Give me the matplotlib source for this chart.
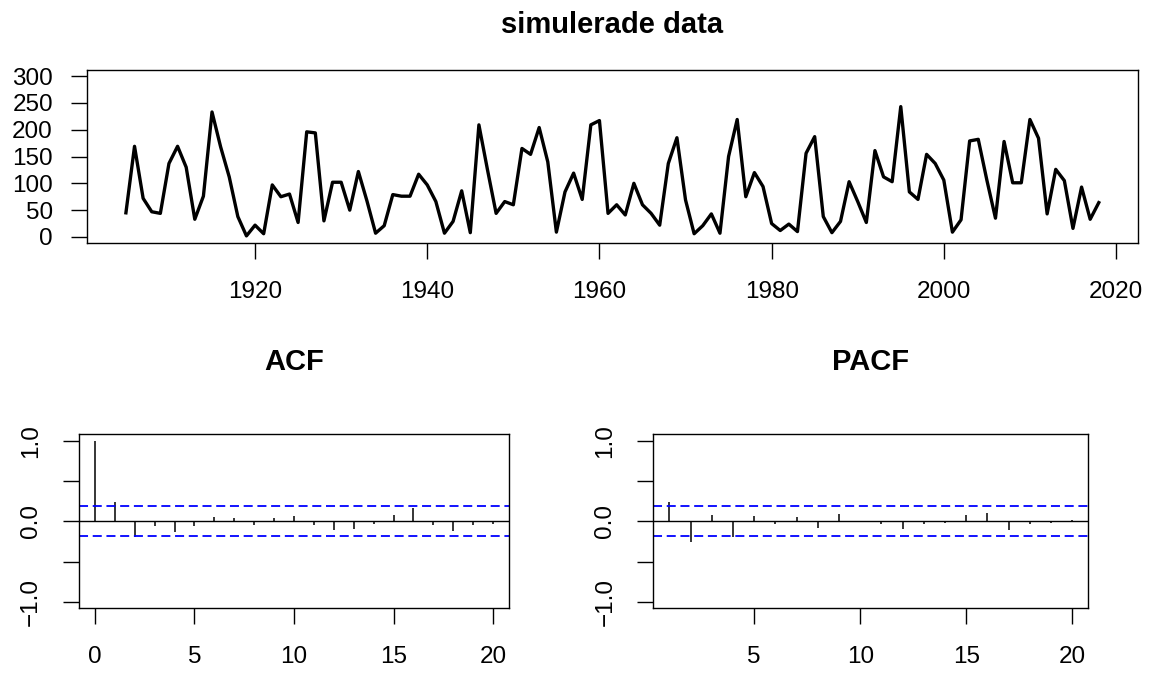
import matplotlib
matplotlib.use("Agg")
import matplotlib.pyplot as plt
import numpy as np

plt.rcParams['font.family'] = ['Liberation Sans', 'DejaVu Sans']

# ---- data ----
years = list(range(1905, 2019))
values = [45, 169, 72, 47, 44, 137, 169, 130, 33, 76,
          233, 168, 112, 38, 2, 22, 6, 97, 75, 80,
          27, 196, 194, 30, 102, 102, 50, 122, 67, 7,
          21, 79, 76, 76, 117, 97, 66, 7, 29, 86,
          8, 209, 125, 44, 66, 60, 165, 154, 204, 140,
          9, 84, 119, 70, 209, 217, 44, 60, 41, 100,
          60, 44, 22, 137, 185, 69, 6, 21, 43, 7,
          150, 219, 75, 120, 94, 25, 12, 24, 10, 156,
          187, 38, 8, 29, 103, 66, 27, 161, 112, 103,
          243, 84, 70, 154, 137, 106, 9, 32, 179, 182,
          106, 35, 178, 101, 101, 219, 184, 43, 126, 105,
          16, 93, 33, 64]

acf_lags = list(range(0, 21))
acf_vals = [1.0, 0.24, -0.19, -0.06, -0.13, -0.06, 0.05, 0.04, -0.04, 0.04,
            0.06, -0.05, -0.11, -0.09, -0.03, 0.08, 0.16, -0.05, -0.12, -0.05, -0.03]

pacf_lags = list(range(1, 21))
pacf_vals = [0.24, -0.26, 0.08, -0.20, 0.06, -0.03, 0.05, -0.08, 0.09, -0.01,
             -0.03, -0.10, -0.03, -0.02, 0.08, 0.10, -0.11, -0.03, -0.02, 0.02]

ci = 0.184

top_yticks = [0, 50, 100, 150, 200, 250, 300]
top_xticks = [1920, 1940, 1960, 1980, 2000, 2020]
cf_yticks = [-1.0, -0.5, 0.0, 0.5, 1.0]
cf_yticklabels = ['\u22121.0', '', '0.0', '', '1.0']

W, H = 1154, 673
fig = plt.figure(figsize=(W / 100, H / 100), dpi=100)

def rect(l, r, t, b):
    return [l / W, 1 - b / H, (r - l) / W, (b - t) / H]

TICK_FS = 17.5
TITLE_FS = 21

def style(ax):
    for s in ax.spines.values():
        s.set_linewidth(1.0)
        s.set_color('black')
    ax.tick_params(direction='out', length=11.5, width=1.0, labelsize=TICK_FS, colors='black')

# ---- top: time series ----
ax = fig.add_axes(rect(87, 1137.7, 69.6, 243.4))
ax.plot(years, values, color='black', lw=2.4, solid_joinstyle='round')
ax.set_xlim(1900.48, 2022.52)
ax.set_ylim(-12, 312)
ax.set_yticks(top_yticks)
ax.set_xticks(top_xticks)
style(ax)
ax.tick_params(axis='x', pad=15.5)
ax.tick_params(axis='y', pad=13)
ax.set_title('simulerade data', fontsize=TITLE_FS, fontweight='bold', pad=26)

# ---- ACF / PACF ----
def cf_panel(r, lags, vals, xlim, xticks, title):
    a = fig.add_axes(r)
    a.vlines(lags, 0, vals, color='black', lw=1.1)
    a.axhline(0, color='black', lw=1.0)
    for c in (ci, -ci):
        a.axhline(c, color='blue', lw=1.3, linestyle=(0, (5, 2.6)))
    a.set_xlim(*xlim)
    a.set_ylim(-1.08, 1.08)
    a.set_xticks(xticks)
    a.set_yticks(cf_yticks)
    a.set_yticklabels(cf_yticklabels, rotation=90, va='center')
    style(a)
    a.tick_params(axis='x', pad=16)
    a.tick_params(axis='y', pad=15)
    a.set_title(title, fontsize=TITLE_FS, fontweight='bold', pad=46)
    return a

cf_panel(rect(79, 509, 434.3, 608.3), acf_lags, acf_vals, (-0.8, 20.8),
         [0, 5, 10, 15, 20], 'ACF')
cf_panel(rect(653.3, 1088.3, 434.3, 608.3), pacf_lags, pacf_vals, (0.24, 20.76),
         [5, 10, 15, 20], 'PACF')

fig.savefig('out.png', dpi=100)
